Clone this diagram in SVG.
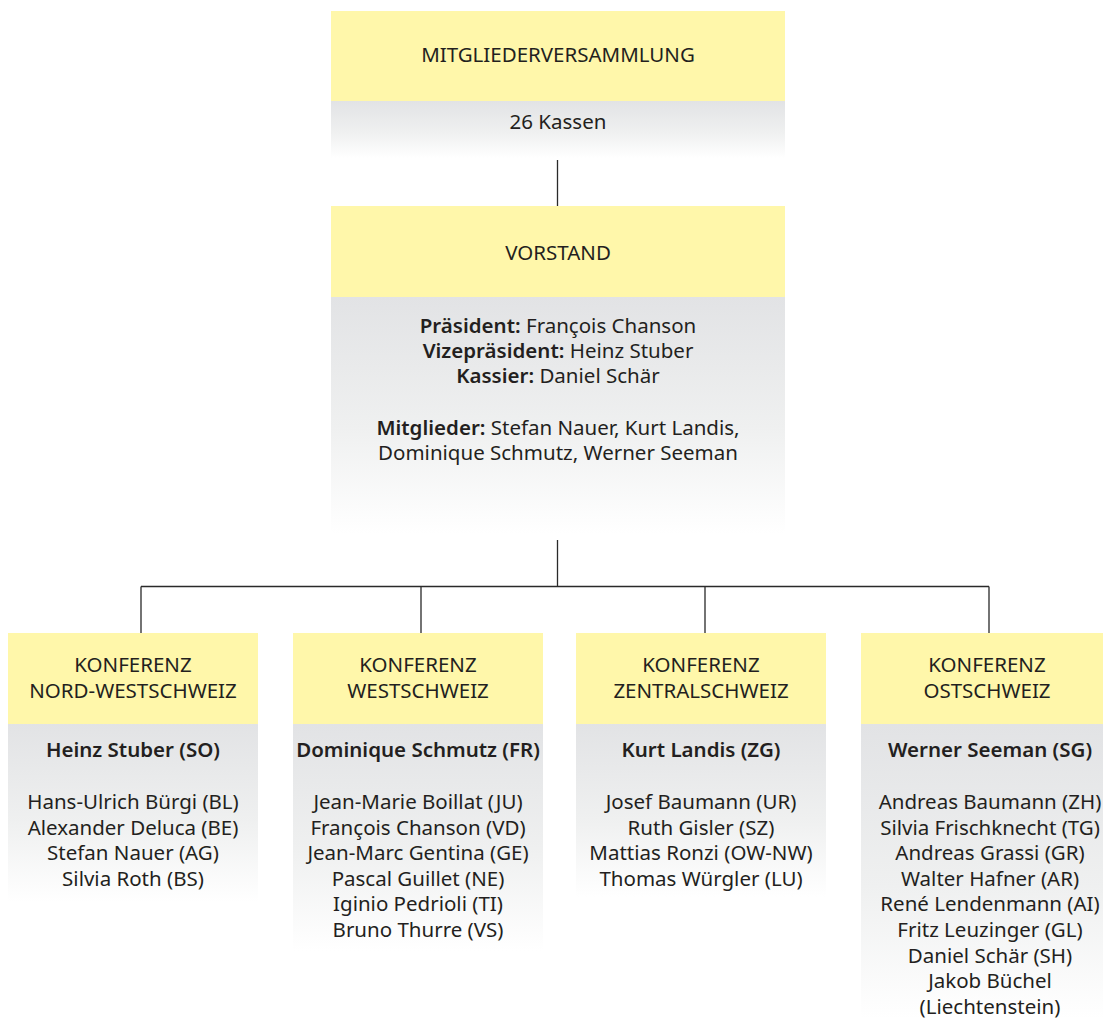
<svg xmlns="http://www.w3.org/2000/svg" width="1103" height="1019" viewBox="0 0 1103 1019">
<defs>
<linearGradient id="fade" x1="0" y1="0" x2="0" y2="1">
<stop offset="0" stop-color="#e2e3e5"/>
<stop offset="0.55" stop-color="#eff0f0"/>
<stop offset="1" stop-color="#ffffff"/>
</linearGradient>
<style>
.hd{fill:#fff7aa}
.bd{fill:url(#fade)}
text{font-family:"Noto Sans","Open Sans","DejaVu Sans",sans-serif;font-size:20.5px;fill:#231f20;text-anchor:middle}
.b{font-weight:600}
.ln{stroke:#2a2a2a;stroke-width:1.3;fill:none}
</style>
</defs>
<rect width="1103" height="1019" fill="#ffffff"/>
<g id="connectors">
<path class="ln" d="M557.5 160V206M557.5 540V586.5M141 586.5H989M141 586.5V633M421 586.5V633M705 586.5V633M989 586.5V633"/>
</g>
<g id="mitgliederversammlung">
<rect class="hd" x="331" y="11" width="454" height="90"/>
<rect class="bd" x="331" y="101" width="454" height="57"/>
<text x="558" y="62">MITGLIEDERVERSAMMLUNG</text>
<text x="558" y="129">26 Kassen</text>
</g>
<g id="vorstand">
<rect class="hd" x="331" y="206" width="454" height="91"/>
<rect class="bd" x="331" y="297" width="454" height="237"/>
<text x="558" y="260">VORSTAND</text>
<text x="558" y="333"><tspan class="b">Präsident:</tspan> François Chanson</text>
<text x="558" y="358"><tspan class="b">Vizepräsident:</tspan> Heinz Stuber</text>
<text x="558" y="383"><tspan class="b">Kassier:</tspan> Daniel Schär</text>
<text x="558" y="435"><tspan class="b">Mitglieder:</tspan> Stefan Nauer, Kurt Landis,</text>
<text x="558" y="460">Dominique Schmutz, Werner Seeman</text>
</g>
<g id="konferenz-nord-westschweiz">
<rect class="hd" x="8" y="633" width="250" height="91"/>
<rect class="bd" x="8" y="724" width="250" height="178"/>
<text x="133" y="672">KONFERENZ</text>
<text x="133" y="698">NORD-WESTSCHWEIZ</text>
<text x="133" y="757" class="b">Heinz Stuber (SO)</text>
<text x="133" y="809">Hans-Ulrich Bürgi (BL)</text>
<text x="133" y="834.6">Alexander Deluca (BE)</text>
<text x="133" y="860.2">Stefan Nauer (AG)</text>
<text x="133" y="885.8">Silvia Roth (BS)</text>
</g>
<g id="konferenz-westschweiz">
<rect class="hd" x="293" y="633" width="250" height="91"/>
<rect class="bd" x="293" y="724" width="250" height="227"/>
<text x="418" y="672">KONFERENZ</text>
<text x="418" y="698">WESTSCHWEIZ</text>
<text x="418" y="757" class="b">Dominique Schmutz (FR)</text>
<text x="418" y="809">Jean-Marie Boillat (JU)</text>
<text x="418" y="834.6">François Chanson (VD)</text>
<text x="418" y="860.2">Jean-Marc Gentina (GE)</text>
<text x="418" y="885.8">Pascal Guillet (NE)</text>
<text x="418" y="911.4">Iginio Pedrioli (TI)</text>
<text x="418" y="937">Bruno Thurre (VS)</text>
</g>
<g id="konferenz-zentralschweiz">
<rect class="hd" x="576" y="633" width="250" height="91"/>
<rect class="bd" x="576" y="724" width="250" height="173"/>
<text x="701" y="672">KONFERENZ</text>
<text x="701" y="698">ZENTRALSCHWEIZ</text>
<text x="701" y="757" class="b">Kurt Landis (ZG)</text>
<text x="701" y="809">Josef Baumann (UR)</text>
<text x="701" y="834.6">Ruth Gisler (SZ)</text>
<text x="701" y="860.2">Mattias Ronzi (OW-NW)</text>
<text x="701" y="885.8">Thomas Würgler (LU)</text>
</g>
<g id="konferenz-ostschweiz">
<rect class="hd" x="861" y="633" width="250" height="91"/>
<rect class="bd" x="861" y="724" width="250" height="295"/>
<text x="987" y="672">KONFERENZ</text>
<text x="987" y="698">OSTSCHWEIZ</text>
<text x="990" y="757" class="b">Werner Seeman (SG)</text>
<text x="990" y="809">Andreas Baumann (ZH)</text>
<text x="990" y="834.6">Silvia Frischknecht (TG)</text>
<text x="990" y="860.2">Andreas Grassi (GR)</text>
<text x="990" y="885.8">Walter Hafner (AR)</text>
<text x="990" y="911.4">René Lendenmann (AI)</text>
<text x="990" y="937">Fritz Leuzinger (GL)</text>
<text x="990" y="962.6">Daniel Schär (SH)</text>
<text x="990" y="988.2">Jakob Büchel</text>
<text x="990" y="1013.8">(Liechtenstein)</text>
</g>
</svg>
